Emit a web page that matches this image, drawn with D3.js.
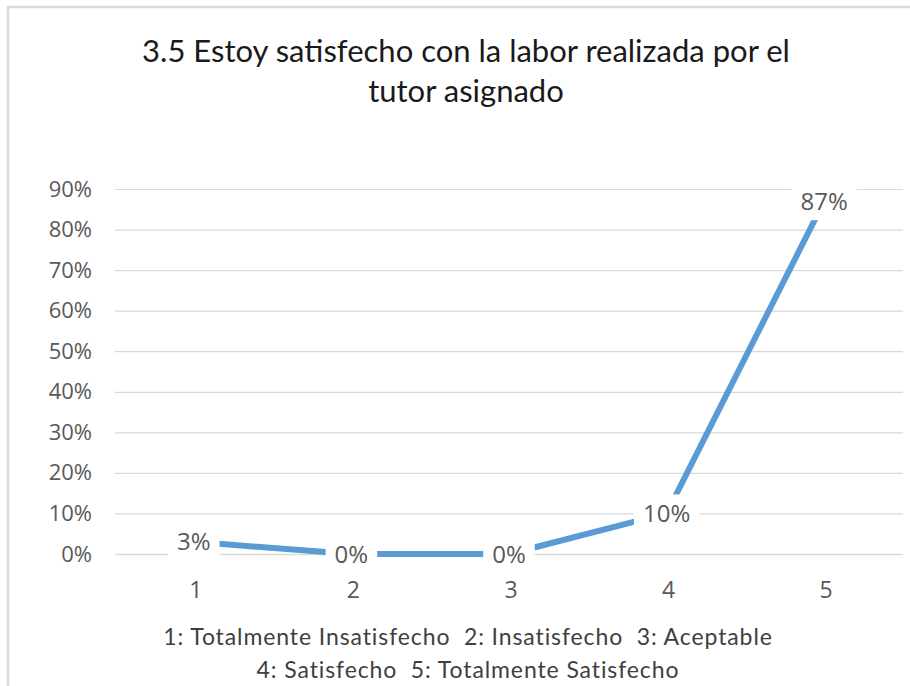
<!DOCTYPE html>
<html>
<head>
<meta charset="utf-8">
<script src="https://cdn.jsdelivr.net/npm/d3@7"></script>
<style>
  html, body { margin: 0; padding: 0; background: #fff; }
  #chart svg { display: block; }
</style>
</head>
<body>
<div id="chart"></div>
<script>
const categories = ["1", "2", "3", "4", "5"]
const values = [0.03, 0.00, 0.00, 0.10, 0.87]
const yTicks = [0, 0.1, 0.2, 0.3, 0.4, 0.5, 0.6, 0.7, 0.8, 0.9]
const titleLines = ["3.5 Estoy satisfecho con la labor realizada por el", "tutor asignado"]
const legendLines = [
  "1: Totalmente Insatisfecho\u00a0\u00a02: Insatisfecho\u00a0\u00a03: Aceptable",
  "4: Satisfecho\u00a0\u00a05: Totalmente Satisfecho"
]

const width = 910
const height = 686
const plot = {left: 115, right: 903, top: 189, bottom: 554}
const colours = {line: "#5b9bd5", grid: "#d9d9d9", axisText: "#595959", title: "#1a1a1a", legend: "#404040"}
const numFont = "'Open Sans', sans-serif"
const textFont = "Lato, 'Open Sans', sans-serif"

const svg = d3.select("#chart")
  .append("svg")
  .attr("width", width)
  .attr("height", height)

// Chart border (only top and left visible in the crop)
svg.append("path")
  .attr("d", `M8,${height} L8,7 L${width},7`)
  .attr("fill", "none")
  .attr("stroke", colours.grid)
  .attr("stroke-width", 2.5)

// Title
svg.append("g")
  .selectAll("text")
  .data(titleLines)
  .enter()
  .append("text")
  .attr("x", 466)
  .attr("y", (d, i) => 62 + i * 40)
  .attr("text-anchor", "middle")
  .style("font-family", textFont)
  .style("font-size", "31px")
  .attr("fill", colours.title)
  .text(d => d)

// Scales
const x = d3.scaleBand()
  .domain(categories)
  .range([plot.left, plot.right])

const y = d3.scaleLinear()
  .domain([0, 0.9])
  .range([plot.bottom, plot.top])

// Gridlines
const grid = svg.append("g")
  .attr("transform", `translate(${plot.left},0)`)
  .call(d3.axisLeft(y).tickValues(yTicks).tickSize(-(plot.right - plot.left)).tickFormat(""))
grid.select(".domain").remove()
grid.selectAll("line")
  .attr("stroke", colours.grid)
  .attr("stroke-width", d => d === 0 ? 1.6 : 1.2)

// Y axis labels
const yAxis = svg.append("g")
  .attr("transform", "translate(92,0)")
  .call(d3.axisLeft(y).tickValues(yTicks).tickSize(0).tickPadding(0).tickFormat(d3.format(".0%")))
yAxis.select(".domain").remove()
yAxis.selectAll("text")
  .style("font-family", numFont)
  .style("font-size", "22px")
  .attr("fill", colours.axisText)

// X axis labels
const xAxis = svg.append("g")
  .attr("transform", `translate(0,${plot.bottom})`)
  .call(d3.axisBottom(x).tickSize(0).tickPadding(28))
xAxis.select(".domain").remove()
xAxis.selectAll("text")
  .attr("dx", 2)
  .style("font-family", numFont)
  .style("font-size", "23px")
  .attr("fill", colours.axisText)

// Line
const points = categories.map((c, i) => ({cat: c, value: values[i]}))
const line = d3.line()
  .x(d => x(d.cat) + x.bandwidth() / 2)
  .y(d => y(d.value))

svg.append("path")
  .datum(points)
  .attr("d", line)
  .attr("fill", "none")
  .attr("stroke", colours.line)
  .attr("stroke-width", 6)
  .attr("stroke-linejoin", "round")

// Data labels with white boxes
const labels = svg.append("g")
  .selectAll("g")
  .data(points)
  .enter()
  .append("g")
  .attr("transform", d => `translate(${x(d.cat) + x.bandwidth() / 2},${y(d.value)})`)

labels.append("text")
  .attr("text-anchor", "middle")
  .attr("dy", "0.36em")
  .style("font-family", numFont)
  .style("font-size", "24px")
  .attr("fill", colours.axisText)
  .text(d => d3.format(".0%")(d.value))

labels.each(function () {
  const g = d3.select(this)
  const w = g.select("text").node().getComputedTextLength() + 18
  g.insert("rect", "text")
    .attr("x", -w / 2)
    .attr("y", -19)
    .attr("width", w)
    .attr("height", 38)
    .attr("fill", "#fff")
})

// Legend text under the axis
svg.append("g")
  .selectAll("text")
  .data(legendLines)
  .enter()
  .append("text")
  .attr("x", 468)
  .attr("y", (d, i) => 645 + i * 33)
  .attr("text-anchor", "middle")
  .style("font-family", textFont)
  .style("font-size", "23px")
  .style("letter-spacing", "0.9px")
  .attr("fill", colours.legend)
  .text(d => d)
</script>
</body>
</html>
